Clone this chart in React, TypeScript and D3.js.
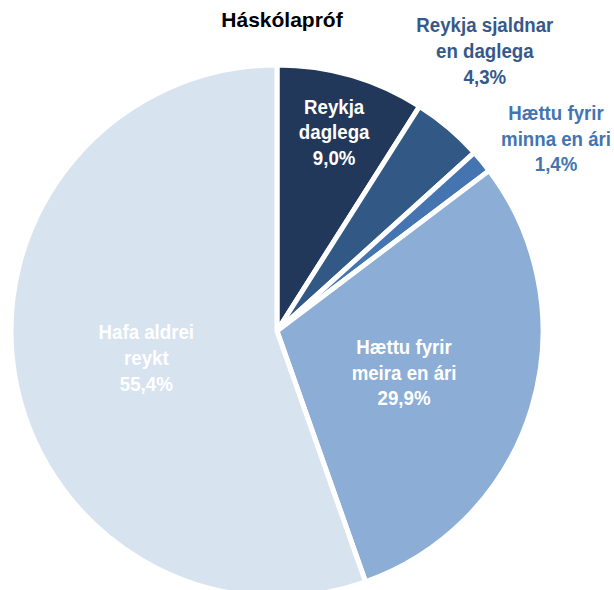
import React from "react";
import * as d3 from "d3";

const title = "Háskólapróf";
const categories = [
  "Reykja daglega",
  "Reykja sjaldnar en daglega",
  "Hættu fyrir minna en ári",
  "Hættu fyrir meira en ári",
  "Hafa aldrei reykt",
];
const labelLines = [
  ["Reykja", "daglega"],
  ["Reykja sjaldnar", "en daglega"],
  ["Hættu fyrir", "minna en ári"],
  ["Hættu fyrir", "meira en ári"],
  ["Hafa aldrei", "reykt"],
];
const values = [9.0, 4.3, 1.4, 29.9, 55.4];
const colors = ["#22385A", "#325886", "#4475B1", "#8CADD5", "#D8E3F0"];
const labelColors = ["#FFFFFF", "#36598A", "#4475B1", "#FFFFFF", "#FFFFFF"];

// layout (label anchor in polar coords relative to pie centre: radius px, angle deg clockwise from top)
const labelPolar = [
  { r: 200, a: 16.6 },
  { r: 343, a: 37.3 },
  { r: 335, a: 56.4 },
  { r: 136, a: 110.9 },
  { r: 135, a: 255.5 },
];

const W = 614;
const H = 590;
const cx = 277;
const cy = 331;
const R = 266;
const lineH = 25.8;
const FONT = "'Liberation Sans', Arial, sans-serif";

const locale = d3.formatLocale({
  decimal: ",",
  thousands: ".",
  grouping: [3],
  currency: ["", " kr"],
});
const fmt = locale.format(".1f");

export default function App() {
  const pie = d3
    .pie<number>()
    .sort(null)
    .startAngle(0)
    .endAngle(2 * Math.PI)
    .value((d) => d);
  const arcs = pie(values);
  const arc = d3.arc<d3.PieArcDatum<number>>().innerRadius(0).outerRadius(R);

  return (
    <svg
      width={W}
      height={H}
      style={{ position: "absolute", left: 0, top: 0, display: "block" }}
    >
      <rect width={W} height={H} fill="#FFFFFF" />
      <g transform={`translate(${cx},${cy})`}>
        {arcs.map((a, i) => (
          <path
            key={categories[i]}
            d={arc(a) || ""}
            fill={colors[i]}
            stroke="#FFFFFF"
            strokeWidth={5}
            strokeLinejoin="miter"
          />
        ))}
        {arcs.map((a, i) => {
          const p = labelPolar[i];
          const ang = (p.a * Math.PI) / 180;
          const x = p.r * Math.sin(ang);
          const y = -p.r * Math.cos(ang);
          const lines = [...labelLines[i], fmt(values[i]) + "%"];
          return (
            <g key={"l" + i}>
              {lines.map((t, j) => (
                <text
                  key={j}
                  transform={`translate(${x},${y + (j - 1) * lineH}) scale(0.89,1)`}
                  textAnchor="middle"
                  fontFamily={FONT}
                  fontWeight="bold"
                  fontSize={21}
                  fill={labelColors[i]}
                >
                  {t}
                </text>
              ))}
            </g>
          );
        })}
      </g>
      <text
        x={282}
        y={26.7}
        textAnchor="middle"
        fontFamily={FONT}
        fontWeight="bold"
        fontSize={21}
        fill="#000000"
      >
        {title}
      </text>
    </svg>
  );
}
